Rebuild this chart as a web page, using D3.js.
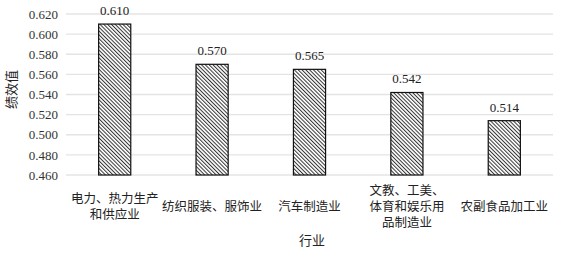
<!DOCTYPE html>
<html lang="zh">
<head>
  <meta charset="UTF-8" />
  <script src="https://d3js.org/d3.v7.min.js"></script>
  <title>行业绩效值</title>
  <style>
    body { margin: 0; background: #fff; }
  </style>
</head>
<body>
  <svg width="570" height="253"></svg>
  <script>
    const categories = [
      ["电力、热力生产", "和供应业"],
      ["纺织服装、服饰业"],
      ["汽车制造业"],
      ["文教、工美、", "体育和娱乐用", "品制造业"],
      ["农副食品加工业"]
    ];
    const values = [0.610, 0.570, 0.565, 0.542, 0.514];
    const yTicks = [0.460, 0.480, 0.500, 0.520, 0.540, 0.560, 0.580, 0.600, 0.620];

    const serif = "'Liberation Serif', 'Times New Roman', serif";
    const cjk = "'Noto Sans CJK SC', sans-serif";

    const svg = d3.select("svg");
    const margin = { top: 14, right: 17, bottom: 78, left: 66 };
    const width = 570 - margin.left - margin.right;
    const height = 253 - margin.top - margin.bottom;

    // hatch pattern
    const defs = svg.append("defs");
    const pat = defs.append("pattern")
      .attr("id", "hatch")
      .attr("patternUnits", "userSpaceOnUse")
      .attr("width", 2.7).attr("height", 2.7)
      .attr("patternTransform", "rotate(-45)");
    pat.append("rect").attr("width", 2.7).attr("height", 2.7).attr("fill", "#fff");
    pat.append("line")
      .attr("x1", 0.5).attr("y1", 0).attr("x2", 0.5).attr("y2", 2.7)
      .attr("stroke", "#333").attr("stroke-width", 1);

    const x = d3.scaleBand()
      .domain(d3.range(values.length))
      .range([0, width])
      .paddingInner(0.67)
      .paddingOuter(0.335);

    const y = d3.scaleLinear()
      .domain([0.46, 0.62])
      .range([height, 0]);

    const chart = svg.append("g")
      .attr("transform", `translate(${margin.left},${margin.top})`);

    // gridlines
    chart.append("g")
      .selectAll("line")
      .data(yTicks)
      .join("line")
      .attr("x1", 0).attr("x2", width)
      .attr("y1", d => y(d)).attr("y2", d => y(d))
      .attr("stroke", "#e4e4e4").attr("stroke-width", 1.3);

    // y-axis labels
    const yAxis = chart.append("g")
      .call(d3.axisLeft(y).tickValues(yTicks).tickFormat(d3.format(".3f")).tickSize(0).tickPadding(8));
    yAxis.select(".domain").remove();
    yAxis.attr("font-family", serif).attr("font-size", 13);
    yAxis.selectAll("text").attr("fill", "#333");

    // bars
    chart.selectAll("rect.bar")
      .data(values)
      .join("rect")
      .attr("class", "bar")
      .attr("x", (d, i) => x(i))
      .attr("y", d => y(d))
      .attr("width", x.bandwidth())
      .attr("height", d => height - y(d))
      .attr("fill", "url(#hatch)")
      .attr("stroke", "#111")
      .attr("stroke-width", 1.2);

    // value labels
    chart.selectAll("text.val")
      .data(values)
      .join("text")
      .attr("class", "val")
      .attr("x", (d, i) => x(i) + x.bandwidth() / 2)
      .attr("y", d => y(d) - 9)
      .attr("text-anchor", "middle")
      .attr("font-family", serif)
      .attr("font-size", 13)
      .attr("fill", "#222")
      .text(d => d3.format(".3f")(d));

    // category labels
    const lineH = 16;
    const cat = chart.selectAll("text.cat")
      .data(categories)
      .join("text")
      .attr("class", "cat")
      .attr("text-anchor", "middle")
      .attr("font-size", 12.5)
      .attr("font-family", cjk)
      .attr("fill", "#222")
      .attr("x", (d, i) => x(i) + x.bandwidth() / 2)
      .attr("y", d => height + 36 - (d.length - 1) * lineH / 2);
    cat.selectAll("tspan")
      .data(d => d)
      .join("tspan")
      .attr("x", function () { return d3.select(this.parentNode).attr("x"); })
      .attr("dy", (d, i) => i === 0 ? 0 : lineH)
      .text(d => d);

    // axis titles
    svg.append("text")
      .attr("x", 312).attr("y", 245)
      .attr("text-anchor", "middle")
      .attr("font-size", 13)
      .attr("font-family", cjk)
      .attr("fill", "#222")
      .text("行业");

    svg.append("text")
      .attr("transform", `translate(11,${margin.top + height / 2 - 5}) rotate(-90)`)
      .attr("text-anchor", "middle")
      .attr("dy", "0.35em")
      .attr("font-size", 13)
      .attr("font-family", cjk)
      .attr("fill", "#222")
      .text("绩效值");
  </script>
</body>
</html>
